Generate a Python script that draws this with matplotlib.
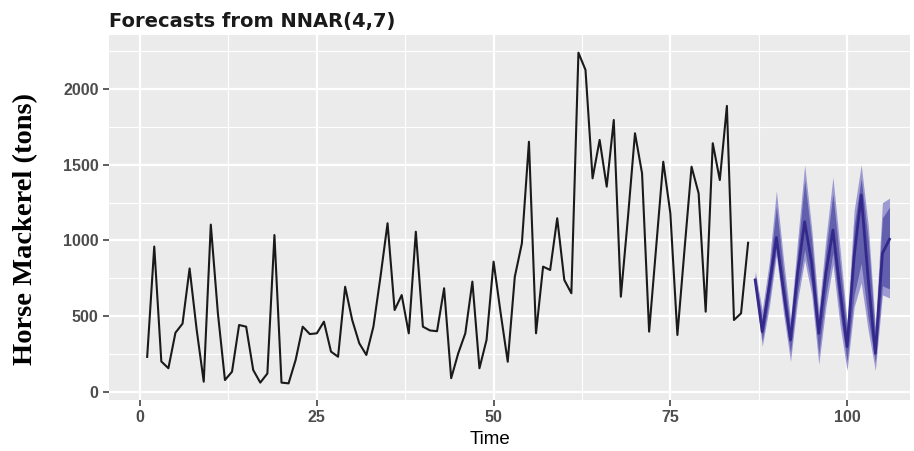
import matplotlib.pyplot as plt
import numpy as np

# Observed monthly catch (tons)
obs_time = list(range(1, 87))
obs_catch = [
    230, 960, 200, 155, 390, 450, 815, 410, 66, 1105,
    520, 77, 132, 441, 430, 143, 60, 120, 1036, 60,
    55, 210, 430, 381, 386, 463, 265, 231, 694, 474,
    320, 243, 430, 760, 1114, 540, 639, 386, 1058, 430,
    405, 400, 684, 89, 254, 386, 728, 155, 342, 860,
    519, 198, 760, 981, 1653, 386, 827, 805, 1147, 739,
    651, 2242, 2128, 1411, 1665, 1356, 1797, 628, 1150, 1709,
    1444, 397, 959, 1521, 1180, 375, 937, 1488, 1312, 529,
    1643, 1400, 1890, 474, 518, 985,
]

# NNAR(4,7) point forecasts and prediction intervals
fc_time = list(range(87, 107))
fc_mean = [739, 397, 700, 1020, 672, 342, 783, 1124, 849, 386,
           783, 1069, 672, 298, 893, 1301, 739, 254, 915, 1008]
lo95 = [680, 300, 560, 900, 520, 200, 600, 870, 640, 180,
        560, 840, 440, 140, 560, 720, 400, 140, 640, 620]
lo80 = [705, 335, 610, 950, 570, 255, 660, 940, 700, 250,
        640, 920, 520, 200, 640, 850, 480, 195, 700, 680]
hi80 = [775, 480, 800, 1230, 800, 420, 920, 1400, 1000, 470,
        930, 1310, 850, 400, 1100, 1410, 1000, 370, 1150, 1220]
hi95 = [800, 540, 860, 1330, 880, 480, 1000, 1500, 1080, 540,
        1010, 1420, 950, 460, 1200, 1500, 1100, 430, 1250, 1280]

x_ticks = [0, 25, 50, 75, 100]
y_ticks = [0, 500, 1000, 1500, 2000]

fig = plt.figure(figsize=(9.14, 4.51), dpi=100)
ax = fig.add_axes([109 / 914, 51 / 451, 801 / 914, 365 / 451])
ax.set_facecolor('#EBEBEB')

ax.fill_between(fc_time, lo95, hi95, color='#9D9AD2', lw=0, zorder=2)
ax.fill_between(fc_time, lo80, hi80, color='#625FAD', lw=0, zorder=3)
ax.plot(fc_time, fc_mean, color='#34298B', lw=2.0, zorder=4)
ax.plot(obs_time, obs_catch, color='#1A1A1A', lw=1.5, zorder=4)

ax.set_xlim(-4.4, 108.9)
ax.set_ylim(-55, 2359)
ax.set_xticks(x_ticks)
ax.set_yticks(y_ticks)
ax.set_xticks([12.5, 37.5, 62.5, 87.5], minor=True)
ax.set_yticks([250, 750, 1250, 1750, 2250], minor=True)
ax.grid(which='major', color='white', lw=1.6)
ax.grid(which='minor', color='white', lw=0.8)
ax.set_axisbelow(True)
for s in ax.spines.values():
    s.set_visible(False)

ax.tick_params(which='major', length=4, width=1.1, color='#333333',
               labelcolor='#4D4D4D', labelsize=11.5)
ax.tick_params(which='minor', length=0)
for lab in ax.get_xticklabels() + ax.get_yticklabels():
    lab.set_fontfamily('Liberation Sans')
    lab.set_fontweight('bold')

ax.set_xlabel('Time', fontsize=13.5, family='Liberation Sans')
ax.xaxis.set_label_coords((490 - 109) / 801, -0.085)
ax.set_ylabel('Horse Mackerel (tons)', fontsize=20.5, family='Liberation Serif',
              fontweight='bold')
ax.yaxis.set_label_coords(-0.088, (451 - 229 - 51) / 365)
ax.set_title('Forecasts from NNAR(4,7)', loc='left', fontsize=14,
             family='DejaVu Sans', fontweight='bold', color='#1A1A1A', pad=6)

fig.savefig('out.png', dpi=100)
